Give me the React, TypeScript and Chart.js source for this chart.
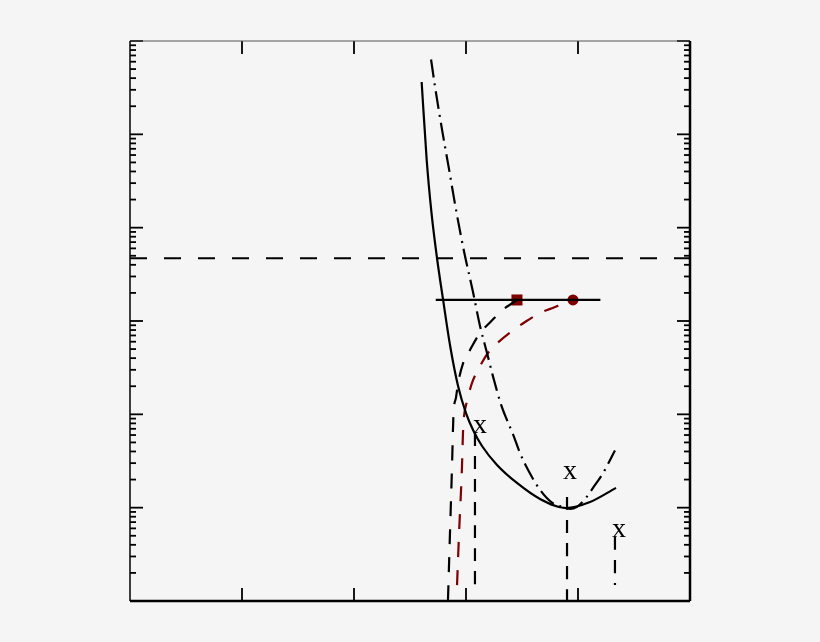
import React, { useEffect, useRef } from 'react';
import Chart from 'chart.js/auto';

// x in axis units (0..5), y on a log axis (1..1e6)
const refLevelX = [0, 5];
const refLevelY = [4700, 4700];

const plateauX = [2.73, 4.2];
const plateauY = [1680, 1680];

const solidX = [2.604, 2.649, 2.692, 2.741, 2.797, 2.857, 2.929, 3.0, 3.063, 3.143, 3.277, 3.455, 3.661, 3.893, 4.107, 4.339];
const solidY = [364000, 53100, 14400, 4730, 1640, 553, 201, 103, 68, 45.8, 28.7, 18.4, 12.4, 9.9, 11.5, 16.3];

const dashDotX = [2.688, 2.723, 2.783, 2.848, 2.911, 2.982, 3.063, 3.125, 3.188, 3.241, 3.313, 3.348, 3.42, 3.482, 3.563, 3.661, 3.768, 3.857, 3.929, 3.991, 4.063, 4.134, 4.223, 4.33];
const dashDotY = [634000, 327000, 118000, 42600, 15500, 5600, 2030, 886, 453, 255, 127, 98, 61, 38.5, 24.2, 15.5, 11.3, 10.2, 9.7, 10.2, 12.4, 16.3, 23.4, 41];

// listed left to right
const blackDashX = [2.839, 2.857, 2.875, 2.888, 2.911, 2.929, 2.973, 3.036, 3.125, 3.214, 3.33, 3.402, 3.455];
const blackDashY = [1.02, 5.35, 27.3, 98, 152, 214, 350, 489, 744, 962, 1325, 1520, 1680];

const redDashX = [2.92, 2.938, 2.964, 2.973, 2.982, 3.009, 3.054, 3.107, 3.196, 3.286, 3.411, 3.527, 3.661, 3.795, 3.857, 3.955];
const redDashY = [1.48, 5.35, 27.3, 63, 94, 138, 217, 299, 454, 589, 782, 975, 1218, 1413, 1520, 1680];

const markerSquare = { x: 3.455, y: 1680 };
const markerCircle = { x: 3.955, y: 1680 };

// vertical drop lines: x, top, bottom
const dropX = [3.08, 3.902, 4.33];
const dropTop = [63, 13, 4.85];
const dropBottom = [1.48, 1, 1.48];

const labelText = ['x', 'x', 'x'];
const labelX = [3.125, 3.929, 4.366];
const labelY = [63, 20.3, 4.85];

const xTicks = [1, 2, 3, 4];

const pts = (xs: number[], ys: number[]) => xs.map((x, i) => ({ x, y: ys[i] }));

const DARK_RED = '#7f0000';

const framePlugin = {
    id: 'frame',
    afterDatasetsDraw(chart: any) {
        const { ctx, chartArea, scales } = chart;
        const { left, right, top, bottom } = chartArea;
        const xs = scales.x;
        const ys = scales.y;
        const line = (x1: number, y1: number, x2: number, y2: number) => {
            ctx.beginPath();
            ctx.moveTo(x1, y1);
            ctx.lineTo(x2, y2);
            ctx.stroke();
        };
        ctx.save();
        ctx.strokeStyle = '#000';
        ctx.lineWidth = 1.8;
        // log ticks, inward, both sides
        for (let d = 0; d <= 6; d++) {
            for (let m = 1; m <= 9; m++) {
                if (d === 6 && m > 1) break;
                const v = m * Math.pow(10, d);
                const py = ys.getPixelForValue(v);
                const len = m === 1 ? 13 : 6;
                line(left, py, left + len, py);
                line(right, py, right - len, py);
            }
        }
        for (const v of xTicks) {
            const px = xs.getPixelForValue(v);
            line(px, bottom, px, bottom - 13);
            line(px, top, px, top + 13);
        }
        // spines
        ctx.strokeStyle = '#555';
        ctx.lineWidth = 1;
        line(left, top, right, top);
        ctx.strokeStyle = '#000';
        ctx.lineWidth = 1.5;
        line(left, top, left, bottom);
        ctx.lineWidth = 2.5;
        line(left, bottom, right, bottom);
        line(right, top, right, bottom);
        // labels
        ctx.fillStyle = '#000';
        ctx.font = '28px "Liberation Serif", serif';
        ctx.textAlign = 'center';
        ctx.textBaseline = 'alphabetic';
        labelText.forEach((t, i) => {
            ctx.fillText(t, xs.getPixelForValue(labelX[i]), ys.getPixelForValue(labelY[i]));
        });
        ctx.restore();
    },
};

export default function App() {
    const canvasRef = useRef<HTMLCanvasElement>(null);

    useEffect(() => {
        document.body.style.margin = '0';
        document.body.style.background = '#f5f5f5';
        if (!canvasRef.current) return;

        const curve = (data: any[], color: string, dash: number[]) => ({
            data,
            showLine: true,
            borderColor: color,
            borderWidth: 2.2,
            borderDash: dash,
            pointRadius: 0,
            cubicInterpolationMode: 'monotone',
            fill: false,
        });

        const datasets: any[] = [
            curve(pts(refLevelX, refLevelY), '#000', [17, 17]),
            curve(pts(plateauX, plateauY), '#000', []),
            curve(pts(solidX, solidY), '#000', []),
            curve(pts(dashDotX, dashDotY), '#000', [18, 6, 2, 6]),
            curve(pts(blackDashX, blackDashY), '#000', [15, 13]),
            curve(pts(redDashX, redDashY), DARK_RED, [15, 13]),
            ...dropX.map((x, i) =>
                curve([{ x, y: dropTop[i] }, { x, y: dropBottom[i] }], '#000', [13, 10]),
            ),
            {
                data: [markerSquare],
                pointStyle: 'rect',
                pointRadius: 7.8,
                backgroundColor: DARK_RED,
                borderColor: DARK_RED,
                borderWidth: 0,
            },
            {
                data: [markerCircle],
                pointStyle: 'circle',
                pointRadius: 5.5,
                backgroundColor: DARK_RED,
                borderColor: DARK_RED,
                borderWidth: 0,
            },
        ];

        const chart = new Chart(canvasRef.current, {
            type: 'scatter',
            data: { datasets },
            options: {
                animation: false,
                responsive: true,
                maintainAspectRatio: false,
                layout: { padding: { left: 130, right: 130, top: 41, bottom: 41 } },
                plugins: { legend: { display: false }, tooltip: { enabled: false } },
                scales: {
                    x: { type: 'linear', min: 0, max: 5, display: false },
                    y: { type: 'logarithmic', min: 1, max: 1e6, display: false },
                },
            },
            plugins: [framePlugin],
        });

        return () => chart.destroy();
    }, []);

    return (
        <div style={{ position: 'relative', width: 820, height: 642, background: '#f5f5f5' }}>
            <canvas ref={canvasRef} />
        </div>
    );
}
